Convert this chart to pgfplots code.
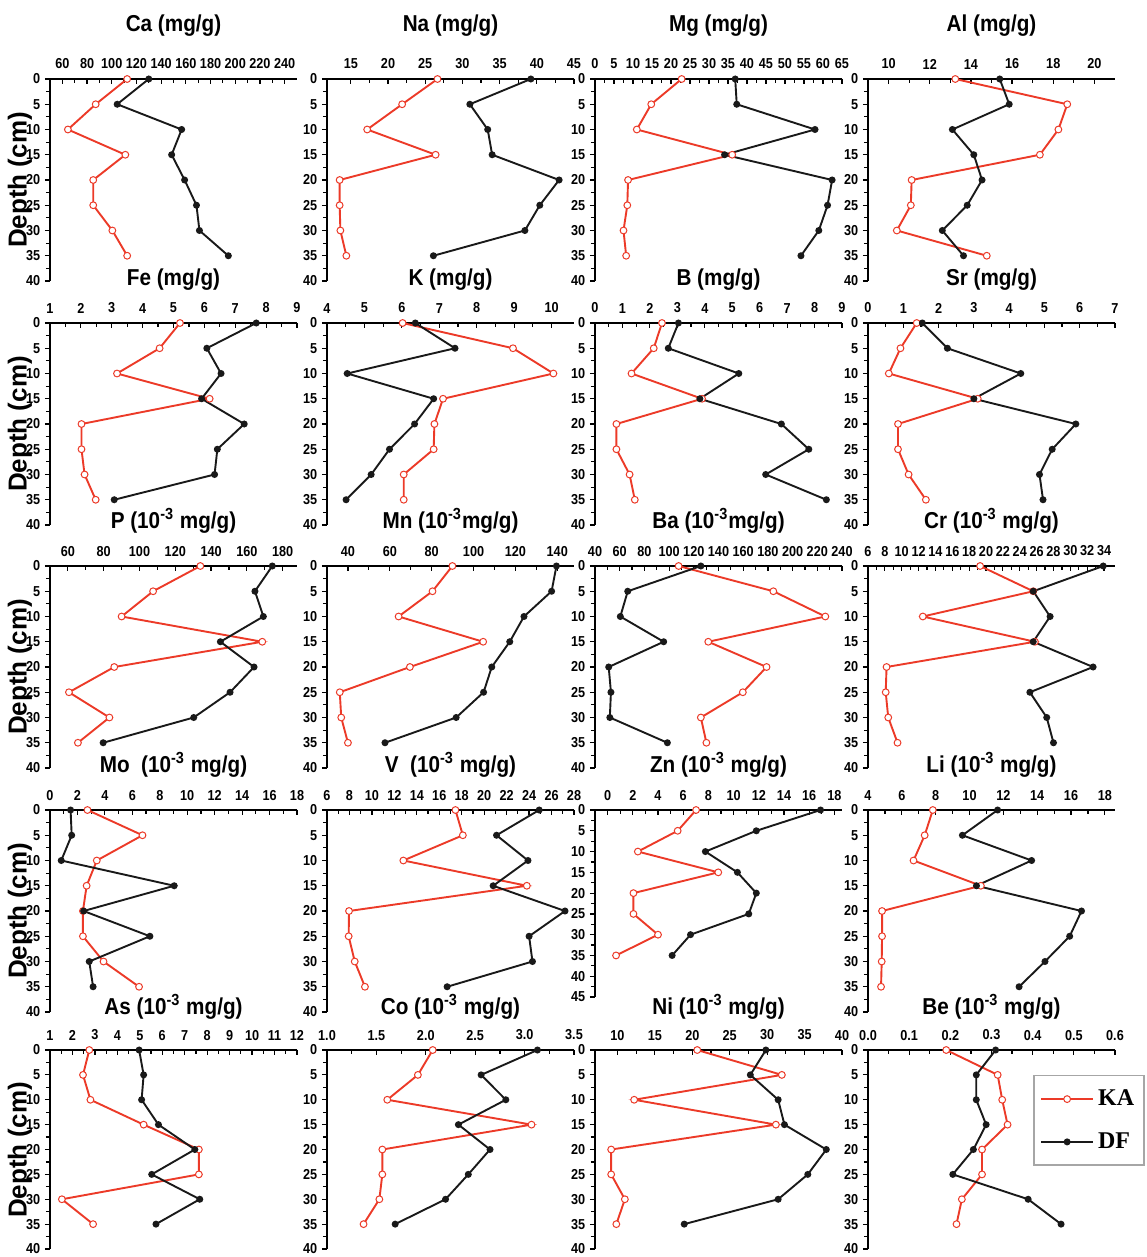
\documentclass[border=0pt]{standalone}
\usepackage{fontspec}
\setmainfont{Liberation Sans}
\newfontfamily\condf{Liberation Sans}[FakeStretch=0.88]
\newfontfamily\titlefam{Liberation Sans}[FakeStretch=0.9]
\newfontfamily\legfam{Liberation Serif}
\usepackage{pgfplots}
\usepackage{pgfplotstable}
\pgfplotsset{compat=1.18}
\definecolor{kared}{RGB}{236,58,40}
\definecolor{dfblack}{RGB}{25,25,25}
\newcommand\tickf{\condf\bfseries\fontsize{7.2}{8}\selectfont}
\newcommand\titf{\titlefam\bfseries\fontsize{11.5}{13}\selectfont}
\newcommand\depf{\bfseries\fontsize{13}{15}\selectfont}
\newcommand\legf{\legfam\bfseries\fontsize{12}{14}\selectfont}
\newcommand\mthree{\textsuperscript{-3}}

\pgfplotstableread{
d CaK CaD NaK NaD MgK MgD AlK AlD
0 112.5 130 26.65 39.2 22.8 36.9 13.24 15.4
5 87 104.4 21.9 31.0 14.8 37.3 18.68 15.86
10 64.5 156.6 17.2 33.4 11.0 57.9 18.25 13.1
15 111 148.5 26.4 34.0 36.1 34.1 17.35 14.14
20 85 159 13.5 43.0 8.7 62.4 11.12 14.54
25 85 168.6 13.5 40.4 8.5 61.2 11.08 13.82
30 100.5 171 13.6 38.4 7.5 58.9 10.4 12.61
35 112.5 194.4 14.4 26.1 8.2 54.2 14.77 13.64
}\tA
\pgfplotstableread{
d FeK FeD KK KD BK BD SrK SrD
0 5.21 7.68 6.02 6.36 2.44 3.04 1.38 1.54
5 4.55 6.08 8.97 7.42 2.14 2.67 0.92 2.25
10 3.17 6.54 10.05 4.54 1.33 5.24 0.59 4.33
15 6.17 5.91 7.1 6.85 3.9 3.82 3.11 3.0
20 2.02 7.29 6.87 6.34 0.78 6.79 0.85 5.89
25 2.02 6.42 6.85 5.67 0.78 7.79 0.85 5.22
30 2.12 6.33 6.05 5.18 1.26 6.22 1.15 4.86
35 2.48 3.08 6.05 4.51 1.45 8.43 1.64 4.96
}\tB
\pgfplotstableread{
d PK PD MnK MnD BaK BaD CrK CrD
0 134 174.2 89.9 139.6 107.7 125.7 19.3 33.9
5 107.6 164.5 80.4 137.3 184.4 66.5 25.6 25.6
10 90 169.2 64.2 124.1 226.5 60.5 12.5 27.6
15 168.6 145.2 104.6 117.3 131.7 95.6 25.8 25.6
20 85.9 164 69.6 108.7 178.9 51.1 8.2 32.7
25 60.6 150.6 36.1 104.8 159.7 52.9 8.1 25.2
30 83.2 130.3 36.8 91.7 125.7 52 8.4 27.2
35 65.6 79.7 40 57.7 130.2 98.6 9.5 28.0
}\tC
\pgfplotstableread{
d MoK MoD VK VD ZnK ZnD LiK LiD
0 2.73 1.5 17.44 24.9 7.02 16.9 7.83 11.66
5 6.74 1.58 18.1 21.1 5.56 11.8 7.35 9.58
10 3.41 0.82 12.8 23.9 2.4 7.76 6.69 13.67
15 2.67 9.05 23.8 20.8 8.78 10.3 10.67 10.41
20 2.4 2.45 7.96 27.2 2.05 11.8 4.83 16.62
25 2.4 7.28 7.93 24.0 2.05 11.2 4.83 15.92
30 3.9 2.86 8.47 24.3 4.0 6.58 4.81 14.46
35 6.49 3.14 9.38 16.7 0.67 5.12 4.77 12.93
}\tD
\pgfplotstableread{
d AsK AsD CoK CoD NiK NiD BeK BeD
0 2.75 4.97 2.07 3.13 20.66 29.83 0.19 0.31
5 2.47 5.17 1.92 2.56 31.96 27.75 0.315 0.263
10 2.8 5.08 1.61 2.81 12.23 31.47 0.326 0.263
15 5.17 5.83 3.07 2.33 31.17 32.31 0.339 0.287
20 7.63 7.45 1.56 2.65 9.16 37.9 0.277 0.256
25 7.63 5.53 1.56 2.43 9.16 35.43 0.277 0.206
30 1.53 7.67 1.53 2.2 10.99 31.47 0.228 0.389
35 2.92 5.72 1.37 1.69 9.85 18.92 0.215 0.469
}\tE

\pgfplotsset{
  panel/.style={
    scale only axis, width=123.5pt, height=101pt, anchor=north west,
    y dir=reverse, ymin=0, ymax=40, ytick={0,5,...,40},
    minor x tick num=1, minor y tick num=1,
    axis x line*=top, axis y line*=left,
    axis line style={line width=0.7pt, black},
    tick style={line width=0.6pt, black},
    major tick length=2.8pt, minor tick length=1.8pt,
    tick align=center,
    x tick style={yshift=-1.2pt},
    y tick style={xshift=-1.2pt},
    tick label style={font=\tickf},
    /pgf/number format/assume math mode=true,
    clip=false,
  },
  ka/.style={color=kared, line width=0.95pt, mark=*, mark size=1.7pt,
    mark options={fill=white, draw=kared, line width=0.5pt, solid}},
  df/.style={color=dfblack, line width=0.95pt, mark=*, mark size=1.25pt,
    mark options={fill=dfblack, solid}},
}

\begin{document}
\begin{tikzpicture}
\path[use as bounding box] (0,0) rectangle (573pt,-628.5pt);

% ---------------- Row 1
\begin{axis}[panel, at={(25pt,-39.5pt)}, xmin=50, xmax=250, xtick={60,80,...,240}]
\addplot[ka] table[x=CaK,y=d]{\tA};
\addplot[df] table[x=CaD,y=d]{\tA};
\end{axis}
\begin{axis}[panel, at={(163.5pt,-39.5pt)}, xmin=11.8, xmax=45, xtick={15,20,...,45}]
\addplot[ka] table[x=NaK,y=d]{\tA};
\addplot[df] table[x=NaD,y=d]{\tA};
\end{axis}
\begin{axis}[panel, at={(297.5pt,-39.5pt)}, xmin=0, xmax=65, xtick={0,5,...,65}]
\addplot[ka] table[x=MgK,y=d]{\tA};
\addplot[df] table[x=MgD,y=d]{\tA};
\end{axis}
\begin{axis}[panel, at={(434pt,-39.5pt)}, xmin=9, xmax=21, xtick={10,12,...,20}]
\addplot[ka] table[x=AlK,y=d]{\tA};
\addplot[df] table[x=AlD,y=d]{\tA};
\end{axis}

% ---------------- Row 2
\begin{axis}[panel, at={(25pt,-161.5pt)}, xmin=1, xmax=9, xtick={1,2,...,9}]
\addplot[ka] table[x=FeK,y=d]{\tB};
\addplot[df] table[x=FeD,y=d]{\tB};
\end{axis}
\begin{axis}[panel, at={(163.5pt,-161.5pt)}, xmin=4, xmax=10.6, xtick={4,5,...,10}]
\addplot[ka] table[x=KK,y=d]{\tB};
\addplot[df] table[x=KD,y=d]{\tB};
\end{axis}
\begin{axis}[panel, at={(297.5pt,-161.5pt)}, xmin=0, xmax=9, xtick={0,1,...,9}]
\addplot[ka] table[x=BK,y=d]{\tB};
\addplot[df] table[x=BD,y=d]{\tB};
\end{axis}
\begin{axis}[panel, at={(434pt,-161.5pt)}, xmin=0, xmax=7, xtick={0,1,...,7}]
\addplot[ka] table[x=SrK,y=d]{\tB};
\addplot[df] table[x=SrD,y=d]{\tB};
\end{axis}

% ---------------- Row 3
\begin{axis}[panel, at={(25pt,-283pt)}, xmin=50, xmax=188, xtick={60,80,...,180}]
\addplot[ka] table[x=PK,y=d]{\tC};
\addplot[df] table[x=PD,y=d]{\tC};
\end{axis}
\begin{axis}[panel, at={(163.5pt,-283pt)}, xmin=30, xmax=148, xtick={40,60,...,140}]
\addplot[ka] table[x=MnK,y=d]{\tC};
\addplot[df] table[x=MnD,y=d]{\tC};
\end{axis}
\begin{axis}[panel, at={(297.5pt,-283pt)}, xmin=40, xmax=240, xtick={40,60,...,240}]
\addplot[ka] table[x=BaK,y=d]{\tC};
\addplot[df] table[x=BaD,y=d]{\tC};
\end{axis}
\begin{axis}[panel, at={(434pt,-283pt)}, xmin=6, xmax=35.3, xtick={6,8,...,34}]
\addplot[ka] table[x=CrK,y=d]{\tC};
\addplot[df] table[x=CrD,y=d]{\tC};
\end{axis}

% ---------------- Row 4
\begin{axis}[panel, at={(25pt,-405pt)}, xmin=0, xmax=18, xtick={0,2,...,18}]
\addplot[ka] table[x=MoK,y=d]{\tD};
\addplot[df] table[x=MoD,y=d]{\tD};
\end{axis}
\begin{axis}[panel, at={(163.5pt,-405pt)}, xmin=6, xmax=28, xtick={6,8,...,28}]
\addplot[ka] table[x=VK,y=d]{\tD};
\addplot[df] table[x=VD,y=d]{\tD};
\end{axis}
\begin{axis}[panel, at={(297.5pt,-405pt)}, height=93.5pt, xmin=-1, xmax=18.6, xtick={0,2,...,18}, ymax=45, ytick={0,5,...,45}]
\addplot[ka] table[x=ZnK,y=d]{\tD};
\addplot[df] table[x=ZnD,y=d]{\tD};
\end{axis}
\begin{axis}[panel, at={(434pt,-405pt)}, xmin=4, xmax=18.6, xtick={4,6,...,18}]
\addplot[ka] table[x=LiK,y=d]{\tD};
\addplot[df] table[x=LiD,y=d]{\tD};
\end{axis}

% ---------------- Row 5
\begin{axis}[panel, at={(25pt,-525pt)}, height=99.5pt, xmin=1, xmax=12, xtick={1,2,...,12}]
\addplot[ka] table[x=AsK,y=d]{\tE};
\addplot[df] table[x=AsD,y=d]{\tE};
\end{axis}
\begin{axis}[panel, at={(163.5pt,-525pt)}, height=99.5pt, xmin=1, xmax=3.5, xtick={1,1.5,2,2.5,3,3.5},
  xticklabel style={/pgf/number format/.cd, fixed, fixed zerofill, precision=1}]
\addplot[ka] table[x=CoK,y=d]{\tE};
\addplot[df] table[x=CoD,y=d]{\tE};
\end{axis}
\begin{axis}[panel, at={(297.5pt,-525pt)}, height=99.5pt, xmin=7, xmax=40, xtick={10,15,...,40}]
\addplot[ka] table[x=NiK,y=d]{\tE};
\addplot[df] table[x=NiD,y=d]{\tE};
\end{axis}
\begin{axis}[panel, at={(434pt,-525pt)}, height=99.5pt, xmin=0, xmax=0.6, xtick={0,0.1,0.2,0.3,0.4,0.5,0.6},
  xticklabel style={/pgf/number format/.cd, fixed, fixed zerofill, precision=1},
  legend style={at={(axis description cs:1.121,0.875)}, anchor=north east, draw=gray!70,
    line width=0.8pt, font=\legf, row sep=8pt, inner xsep=3pt, inner ysep=5pt},
  legend cell align=left,
  legend image code/.code={\draw[#1, mark repeat=2, mark phase=2] plot coordinates {(0pt,0pt) (13pt,0pt) (26pt,0pt)};}]
\addplot[ka] table[x=BeK,y=d]{\tE};
\addplot[df] table[x=BeD,y=d]{\tE};
\legend{KA,DF}
\end{axis}

% ---------------- Titles
\foreach \tx/\ty/\tt in {
  86.75/-13/{Ca (mg/g)}, 225.25/-13/{Na (mg/g)}, 359.25/-13/{Mg (mg/g)}, 495.75/-13/{Al (mg/g)},
  86.75/-140/{Fe (mg/g)}, 225.25/-140/{K (mg/g)}, 359.25/-140/{B (mg/g)}, 495.75/-140/{Sr (mg/g)},
  86.75/-260.5/{P (10\mthree{} mg/g)}, 225.25/-260.5/{Mn (10\mthree{}mg/g)}, 359.25/-260.5/{Ba (10\mthree{}mg/g)}, 495.75/-260.5/{Cr (10\mthree{} mg/g)},
  86.75/-382.5/{Mo\ \ (10\mthree{} mg/g)}, 225.25/-382.5/{V\ \ (10\mthree{} mg/g)}, 359.25/-382.5/{Zn (10\mthree{} mg/g)}, 495.75/-382.5/{Li (10\mthree{} mg/g)},
  86.75/-503.5/{As (10\mthree{} mg/g)}, 225.25/-503.5/{Co (10\mthree{} mg/g)}, 359.25/-503.5/{Ni (10\mthree{} mg/g)}, 495.75/-503.5/{Be (10\mthree{} mg/g)}}
  {\node[font=\titf, inner sep=0pt] at (\tx pt,\ty pt) {\tt};}

% ---------------- Depth labels
\foreach \dy in {-90,-212,-333.5,-455.5,-575}
  {\node[font=\depf, rotate=90, inner sep=0pt] at (10pt,\dy pt) {Depth (cm)};}
\end{tikzpicture}
\end{document}
